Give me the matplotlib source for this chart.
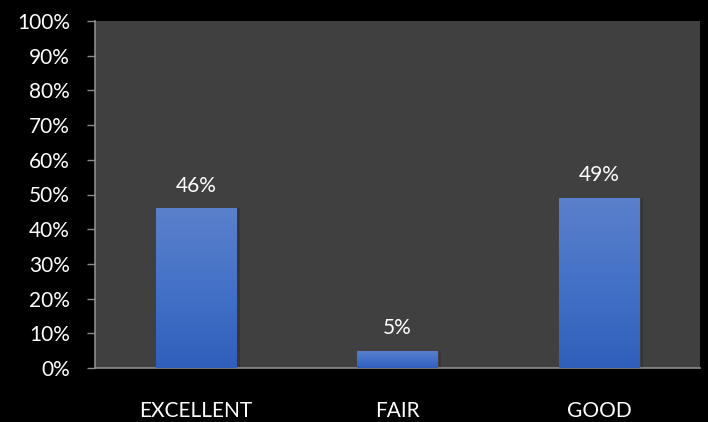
import numpy as np
import matplotlib.pyplot as plt
from matplotlib.ticker import PercentFormatter
from matplotlib.colors import LinearSegmentedColormap

categories = ["EXCELLENT", "FAIR", "GOOD"]
values = [46, 5, 49]

plt.rcParams['font.family'] = ['Lato', 'DejaVu Sans']

fig = plt.figure(figsize=(7.08, 4.22), dpi=100, facecolor="black")
ax = fig.add_axes([95/708, 1 - 368/422, 605/708, 347/422])
ax.set_facecolor("#404040")

x = np.arange(len(categories))
bars = ax.bar(x, values, width=0.4, color="#4472c4", zorder=2)

# gradient fill, lighter at the top
grad = np.linspace(0, 1, 256).reshape(-1, 1)
cmap = LinearSegmentedColormap.from_list("g", ["#2f5fbb", "#4472c8", "#5b80cb"])
for b in bars:
    x0, y0 = b.get_x(), b.get_y()
    w, h = b.get_width(), b.get_height()
    im = ax.imshow(grad, cmap=cmap, aspect="auto", origin="lower",
                   extent=[x0, x0 + w, y0, y0 + h], zorder=3)
    im.set_clip_path(b)
    # faint shadow on the right
    ax.bar(x0 + w + 0.005, h, width=0.012, align="edge", color="#363636", zorder=1)

for xi, v in zip(x, values):
    ax.annotate(f"{v}%", (xi, v), xytext=(0, 9), textcoords="offset points",
                ha="center", va="bottom", color="white", fontsize=15)

ax.set_xlim(-0.5, 2.5)
ax.set_ylim(0, 100)
ax.set_yticks(np.arange(0, 101, 10))
ax.yaxis.set_major_formatter(PercentFormatter(decimals=0))
ax.set_xticks(x)
ax.set_xticklabels(categories)
ax.tick_params(axis="x", length=0, pad=24, labelcolor="white", labelsize=15)
ax.tick_params(axis="y", length=6, width=1, color="#8c8c8c", labelcolor="white",
               labelsize=15, pad=12)

for s in ["top", "right"]:
    ax.spines[s].set_visible(False)
for s in ["left", "bottom"]:
    ax.spines[s].set_color("#8c8c8c")
    ax.spines[s].set_linewidth(1.2)

fig.savefig("out.png", dpi=100, facecolor="black")
